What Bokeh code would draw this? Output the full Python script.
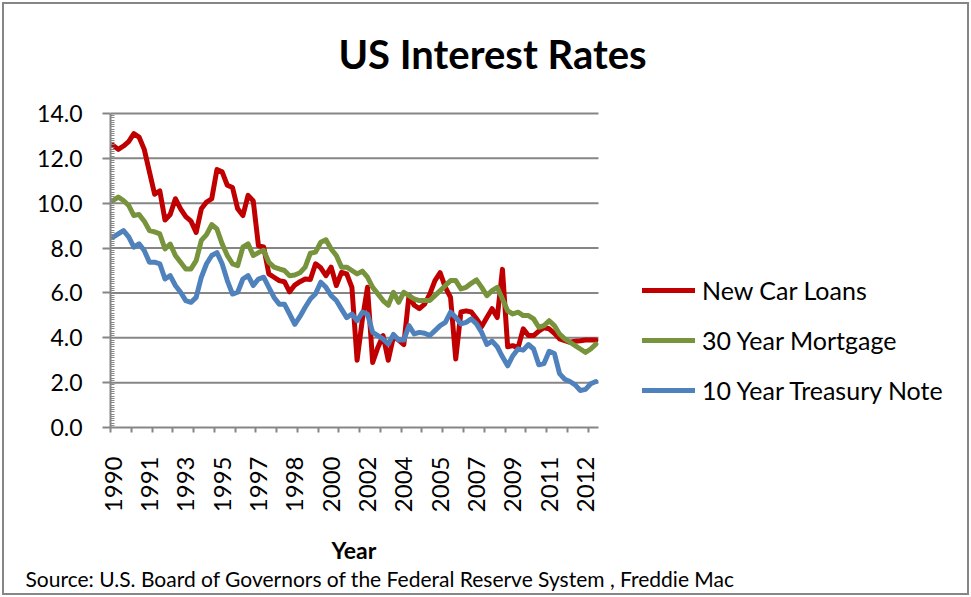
import math
from bokeh.plotting import figure
from bokeh.models import (Range1d, SingleIntervalTicker, FixedTicker, NumeralTickFormatter,
                          Legend, LegendItem, Title, Label, ColumnDataSource)
from bokeh.embed import file_html
from bokeh.resources import INLINE

# ---------------- data (quarterly, 1990Q1 .. 2013Q2) ----------------
quarters = [f"{1990 + k // 4}Q{k % 4 + 1}" for k in range(94)]

new_car_loans = [12.58, 12.4, 12.55, 12.75, 13.1, 12.95, 12.4, 11.4, 10.4, 10.55,
                 9.25, 9.5, 10.2, 9.75, 9.4, 9.2, 8.7, 9.75, 10.05, 10.2,
                 11.5, 11.4, 10.8, 10.7, 9.75, 9.45, 10.35, 10.1, 8.1, 8.05,
                 6.85, 6.7, 6.55, 6.5, 6.05, 6.35, 6.5, 6.62, 6.6, 7.3,
                 7.12, 6.77, 7.15, 6.33, 6.92, 6.85, 6.25, 3.0, 4.8, 6.25,
                 2.9, 3.57, 4.1, 3.0, 4.05, 3.9, 3.7, 5.9, 5.45, 5.3,
                 5.5, 5.95, 6.55, 6.9, 6.25, 5.8, 3.05, 5.15, 5.2, 5.15,
                 4.85, 4.5, 4.9, 5.3, 4.9, 7.05, 3.6, 3.65, 3.55, 4.4,
                 4.1, 4.1, 4.3, 4.45, 4.4, 4.2, 3.95, 3.87, 3.8, 3.85,
                 3.87, 3.9, 3.9, 3.9]

mortgage_30y = [10.12, 10.27, 10.12, 9.9, 9.45, 9.5, 9.2, 8.78, 8.72, 8.63,
                7.96, 8.18, 7.67, 7.37, 7.07, 7.07, 7.44, 8.34, 8.6, 9.05,
                8.85, 8.19, 7.67, 7.3, 7.22, 8.04, 8.19, 7.67, 7.8, 7.9,
                7.37, 7.15, 7.07, 7.0, 6.77, 6.8, 6.9, 7.15, 7.77, 7.82,
                8.26, 8.37, 7.96, 7.67, 7.15, 7.15, 7.0, 6.85, 6.97, 6.7,
                6.25, 5.96, 5.66, 5.45, 6.03, 5.58, 6.03, 5.88, 5.73, 5.66,
                5.66, 5.66, 5.88, 6.1, 6.33, 6.55, 6.55, 6.18, 6.25, 6.43,
                6.58, 6.25, 5.88, 6.1, 6.25, 5.73, 5.2, 5.06, 5.14, 4.99,
                4.99, 4.84, 4.47, 4.54, 4.76, 4.54, 4.17, 3.95, 3.8, 3.65,
                3.5, 3.35, 3.5, 3.72]

treasury_10y = [8.49, 8.63, 8.78, 8.5, 8.04, 8.19, 7.89, 7.37, 7.37, 7.3,
                6.62, 6.77, 6.33, 6.03, 5.66, 5.58, 5.8, 6.7, 7.3, 7.67,
                7.8, 7.3, 6.55, 5.95, 6.03, 6.62, 6.77, 6.33, 6.62, 6.7,
                6.25, 5.8, 5.5, 5.5, 5.06, 4.6, 4.95, 5.36, 5.73, 5.96,
                6.48, 6.25, 5.88, 5.66, 5.28, 4.9, 5.06, 4.76, 5.14, 5.06,
                4.24, 4.1, 3.95, 3.72, 4.15, 3.9, 3.9, 4.54, 4.17, 4.24,
                4.2, 4.1, 4.32, 4.54, 4.69, 5.14, 4.91, 4.62, 4.69, 4.84,
                4.62, 4.24, 3.7, 3.85, 3.6, 3.15, 2.75, 3.2, 3.5, 3.45,
                3.7, 3.5, 2.8, 2.85, 3.4, 3.3, 2.4, 2.15, 2.05, 1.9,
                1.65, 1.7, 1.95, 2.05]

tick_labels = ["1990", "1991", "1993", "1995", "1997", "1998", "2000",
               "2002", "2004", "2005", "2007", "2009", "2011", "2012"]
label_step = 7      # a label every 7 quarters
tick_step = 4       # a tick mark every 4 quarters
y_max, y_step = 14, 2

series_names = ["New Car Loans", "30 Year Mortgage", "10 Year Treasury Note"]
series_colors = ["#C00000", "#77933C", "#4F81BD"]

# ---------------- geometry (pixels) ----------------
W, H = 971, 597
PL, PR, PT, PB = 110, 598, 113, 427          # plot area of the chart
FR_, FT_ = 965, 6                             # frame extends to hold title and legend
n = len(quarters)
GRAY = "#868686"

xs = (PR - PL) / n                            # px per quarter
ys = (PB - PT) / y_max                        # px per unit
x_end = -0.5 + (FR_ - PL) / xs
y_end = (PB - FT_) / ys

def px_x(px):
    return -0.5 + (px - PL) / xs

def px_y(py):
    return (PB - py) / ys

p = figure(width=W, height=H, output_backend="svg", toolbar_location=None,
           x_range=Range1d(-0.5, x_end), y_range=Range1d(0, y_end),
           min_border_left=PL, min_border_right=W - FR_,
           min_border_top=FT_, min_border_bottom=H - PB, title=None)
p.outline_line_color = None
p.background_fill_color = None
p.border_fill_color = None
p.styles = {"box-shadow": "inset 0 0 0 2px white, inset 0 0 0 4px #868686",
            "background-color": "white"}

# horizontal gridlines limited to the plot area
grid_vals = list(range(y_step, y_max + 1, y_step))
p.segment(x0=[-0.5] * len(grid_vals), x1=[n - 0.5] * len(grid_vals),
          y0=grid_vals, y1=grid_vals, line_color=GRAY, line_width=2)
p.xgrid.visible = False
p.ygrid.visible = False

src = ColumnDataSource(dict(x=list(range(n)), q=quarters, car=new_car_loans,
                            mort=mortgage_30y, tsy=treasury_10y))

renderers = []
for col, color in zip(["car", "mort", "tsy"], series_colors):
    r = p.line("x", col, source=src, line_color=color, line_width=5,
               line_join="round", line_cap="round")
    renderers.append(r)

# y axis
p.yaxis.bounds = (0, y_max)
p.yaxis.ticker = SingleIntervalTicker(interval=y_step, num_minor_ticks=20)
p.yaxis.formatter = NumeralTickFormatter(format="0.0")
p.yaxis.axis_line_color = GRAY
p.yaxis.axis_line_width = 2
p.yaxis.major_tick_line_color = GRAY
p.yaxis.major_tick_line_width = 2
p.yaxis.major_tick_in = 0
p.yaxis.major_tick_out = 8
p.yaxis.minor_tick_line_color = GRAY
p.yaxis.minor_tick_line_width = 1
p.yaxis.minor_tick_in = 4
p.yaxis.minor_tick_out = 0
p.yaxis.major_label_text_font = "Lato"
p.yaxis.major_label_text_font_size = "23px"
p.yaxis.major_label_text_color = "black"
p.yaxis.major_label_standoff = 20

# x axis
label_pos = list(range(0, n, label_step))
p.xaxis.bounds = (-0.5, n - 0.5)
p.xaxis.ticker = FixedTicker(ticks=label_pos,
                             minor_ticks=[k - 0.5 for k in range(0, n + 1, tick_step)])
p.xaxis.major_label_overrides = {pos: lab for pos, lab in zip(label_pos, tick_labels)}
p.xaxis.major_label_orientation = math.pi / 2
p.xaxis.axis_line_color = GRAY
p.xaxis.axis_line_width = 2
p.xaxis.major_tick_in = 0
p.xaxis.major_tick_out = 0
p.xaxis.minor_tick_line_color = GRAY
p.xaxis.minor_tick_line_width = 2
p.xaxis.minor_tick_in = 0
p.xaxis.minor_tick_out = 5
p.xaxis.major_label_text_font = "Lato"
p.xaxis.major_label_text_font_size = "24px"
p.xaxis.major_label_text_color = "black"
p.xaxis.major_label_standoff = 24
# an invisible spacer label keeps a gap between the tick labels and the axis title
p.xaxis.axis_label = " "
p.xaxis.axis_label_text_font_size = "1px"
p.xaxis.axis_label_standoff = 16

# chart title, centred on the whole chart
p.add_layout(Label(x=px_x(492), y=px_y(53), text="US Interest Rates",
                   text_align="center", text_baseline="alphabetic",
                   text_font="Lato", text_font_style="bold", text_font_size="40px",
                   text_color="black"))

# axis title, centred under the plot area
p.add_layout(Title(text="Year", align="left", offset=(PR - PL) / 2 - 23,
                   text_font="Lato", text_font_style="bold", text_font_size="23px",
                   text_color="black", standoff=0, vertical_align="top"), "below")

# source note
p.add_layout(Title(text="Source: U.S. Board of Governors of the Federal Reserve System , Freddie Mac",
                   align="left", offset=25 - PL, text_font="Lato", text_font_style="normal",
                   text_font_size="21px", text_color="black", standoff=0,
                   vertical_align="top"), "below")

# legend
legend = Legend(items=[LegendItem(label=nm, renderers=[r]) for nm, r in zip(series_names, renderers)],
                location=(532, 22), orientation="vertical",
                glyph_width=53, glyph_height=30, label_height=30, spacing=20,
                label_standoff=7, padding=0, margin=0,
                border_line_color=None, background_fill_alpha=0,
                label_text_font="Lato", label_text_font_size="25px",
                label_text_color="black")
p.add_layout(legend, "center")

open("out.html", "w").write(file_html(p, INLINE))
